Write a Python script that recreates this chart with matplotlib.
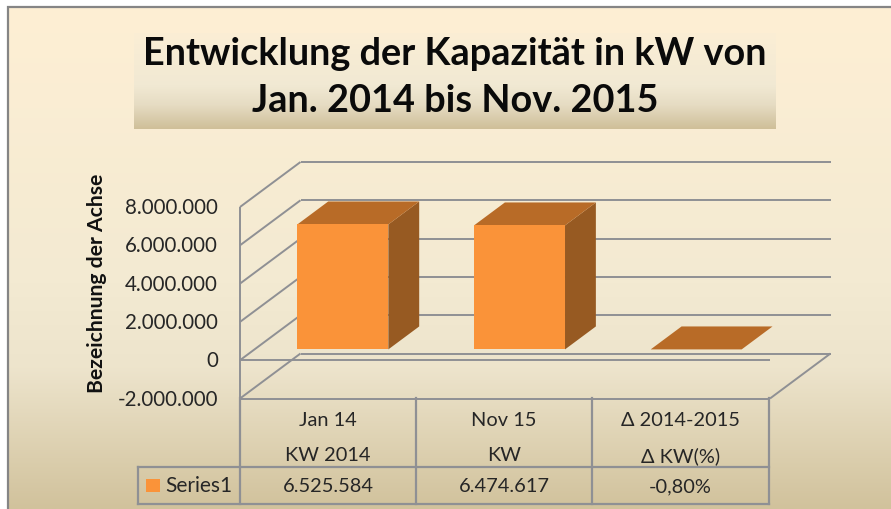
import numpy as np
import matplotlib
matplotlib.use("Agg")
import matplotlib.pyplot as plt
from matplotlib.colors import LinearSegmentedColormap
from matplotlib.patches import Polygon

# ---- data ----
title_lines = ["Entwicklung der Kapazität in kW von", "Jan. 2014 bis Nov. 2015"]
y_label = "Bezeichnung der Achse"
series_name = "Series1"
cat_top = ["Jan 14", "Nov 15", "Δ 2014-2015"]
cat_bottom = ["KW 2014", "KW", "Δ KW(%)"]
values = [6525584, 6474617, -0.008]
value_labels = ["6.525.584", "6.474.617", "-0,80%"]
y_ticks = [-2000000, 0, 2000000, 4000000, 6000000, 8000000]
y_tick_labels = ["-2.000.000", "0", "2.000.000", "4.000.000", "6.000.000", "8.000.000"]

W, H = 891, 510
FONT = ["Lato", "DejaVu Sans"]
GRID = "#8f9094"
TXT = "#262626"
FRONT, TOP, SIDE = "#FA9339", "#B86B27", "#975A22"

plt.rcParams["font.family"] = FONT
fig = plt.figure(figsize=(W / 100, H / 100), dpi=100, facecolor="white")

# page layer in pixel coordinates
bg = fig.add_axes([0, 0, 1, 1], zorder=0)
bg.set_xlim(0, W); bg.set_ylim(H, 0); bg.axis("off")
cm = LinearSegmentedColormap.from_list("bg", [(0, "#FEEFD4"), (0.55, "#F3EAD2"), (0.72, "#EDE4CC"), (1, "#D1C29C")])
bg.imshow(np.linspace(0, 1, 256)[:, None], cmap=cm, extent=[8, W, H, 8], aspect="auto", vmin=0, vmax=1, zorder=0)
bg.plot([8, 8, W], [H, 8, 8], color="#858585", lw=1.6, zorder=1, solid_joinstyle="miter")
cm2 = LinearSegmentedColormap.from_list("tb", [(0, "#FBEED5"), (0.55, "#F1E9D3"), (0.75, "#E6DCC3"), (1, "#CFBF99")])
bg.imshow(np.linspace(0, 1, 128)[:, None], cmap=cm2, extent=[134, 776, 130, 34], aspect="auto", vmin=0, vmax=1, zorder=1)
bg.set_xlim(0, W); bg.set_ylim(H, 0)
for txt, yy in zip(title_lines, [54, 101]):
    bg.text(455, yy, txt, ha="center", va="center", fontsize=27.3, fontweight="bold", color="#0a0a0a", zorder=3)

# chart layer: x = category position, y = value, plus a depth shear
x0, x1, ytop, ybot = 240, 770, 208, 399.5
ax = fig.add_axes([x0 / W, 1 - ybot / H, (x1 - x0) / W, (ybot - ytop) / H], zorder=1)
ax.patch.set_alpha(0); ax.axis("off")
ax.set_xlim(0, 3); ax.set_ylim(y_ticks[0], y_ticks[-1])
DX = 60.5 / ((x1 - x0) / 3)
DY = 45 / ((ybot - ytop) / (y_ticks[-1] - y_ticks[0]))

def P(x, y, t):
    return (x + t * DX, y + t * DY)

kw = dict(color=GRID, lw=1.4, clip_on=False, solid_capstyle="butt")
for v in y_ticks:
    a, b = P(0, v, 0), P(0, v, 1)
    ax.plot([a[0], b[0]], [a[1], b[1]], zorder=1, **kw)
    c = P(3, v, 1)
    ax.plot([b[0], c[0]], [b[1], c[1]], zorder=1, **kw)
ax.plot([0, 0], [y_ticks[0], y_ticks[-1]], zorder=1, **kw)
ax.plot([0, 3], [0, 0], zorder=1, **kw)
ax.plot([0, 3], [y_ticks[0], y_ticks[0]], zorder=1, **kw)
a, b = P(3, y_ticks[0], 0), P(3, y_ticks[0], 1)
ax.plot([a[0], b[0]], [a[1], b[1]], zorder=1, **kw)

width, t0, t1 = 0.515, 0.24, 0.75
for i, v in enumerate(values):
    l, r = i + 0.5 - width / 2, i + 0.5 + width / 2
    ax.add_patch(Polygon([P(r, 0, t0), P(r, 0, t1), P(r, v, t1), P(r, v, t0)], fc=SIDE, ec="none", clip_on=False, zorder=3))
    ax.add_patch(Polygon([P(l, v, t0), P(r, v, t0), P(r, v, t1), P(l, v, t1)], fc=TOP, ec="none", clip_on=False, zorder=3))
    if abs(v) > 1:
        ax.add_patch(Polygon([P(l, 0, t0), P(r, 0, t0), P(r, v, t0), P(l, v, t0)], fc=FRONT, ec="none", clip_on=False, zorder=4))

for v, s in zip(y_ticks, y_tick_labels):
    ax.annotate(s, (0, v), xytext=(-22, 0), textcoords="offset pixels", ha="right", va="center",
                fontsize=14.8, color=TXT, annotation_clip=False)

bg.text(97, 283, y_label, rotation=90, ha="center", va="center", fontsize=15.2, fontweight="bold", color="#111111", zorder=3)

# data table
col_edges = [240, 416, 592, 769]
t_kw = dict(color=GRID, lw=1.6, zorder=2, solid_capstyle="projecting")
for xe in col_edges:
    bg.plot([xe, xe], [398.5, 505], **t_kw)
bg.plot([138, 138], [468, 505], **t_kw)
bg.plot([138, 769], [468, 468], **t_kw)
bg.plot([138, 769], [505, 505], **t_kw)
for i in range(3):
    xc = (col_edges[i] + col_edges[i + 1]) / 2
    bg.text(xc, 421, cat_top[i], ha="center", va="center", fontsize=14.4, color=TXT, zorder=3)
    bg.text(xc, 456, cat_bottom[i], ha="center", va="center", fontsize=14.4, color=TXT, zorder=3)
    bg.text(xc, 487, value_labels[i], ha="center", va="center", fontsize=14.4, color=TXT, zorder=3)
bg.add_patch(plt.Rectangle((146, 480), 14, 13, fc=FRONT, ec="none", zorder=3))
bg.text(165, 486, series_name, ha="left", va="center", fontsize=15, color=TXT, zorder=3)

fig.savefig("out.png", dpi=100)
